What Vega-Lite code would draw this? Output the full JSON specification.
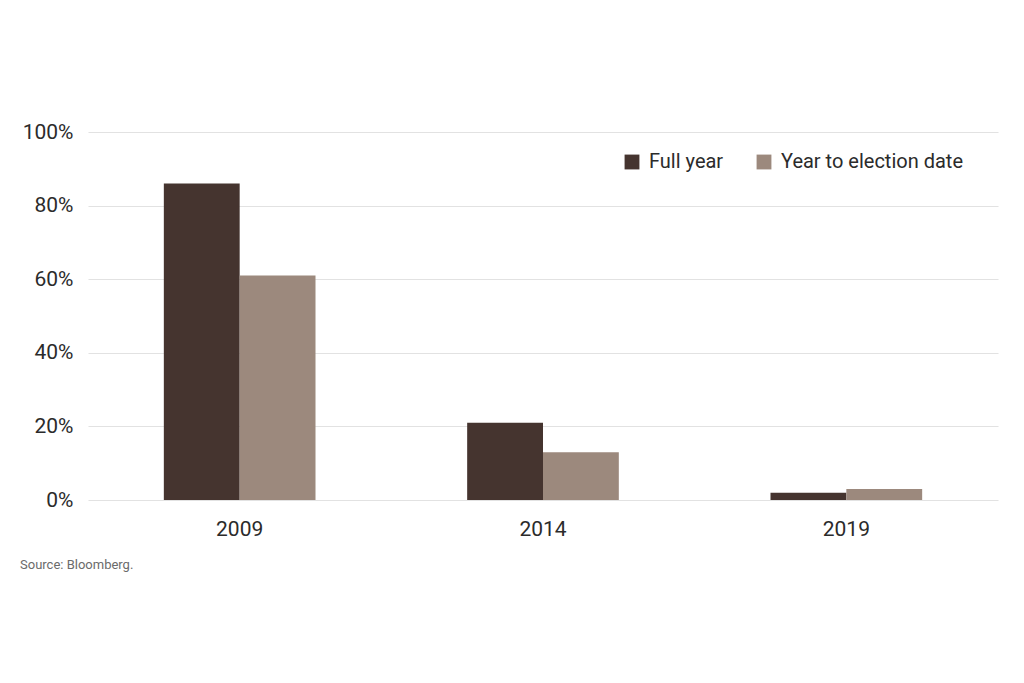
{
  "$schema": "https://vega.github.io/schema/vega-lite/v6.json",
  "width": 910,
  "height": 368,
  "autosize": "none",
  "padding": {"left": 88, "top": 132, "right": 26, "bottom": 183},
  "background": "white",
  "data": {
    "values": [
      {"year": "2009", "series": "Full year", "value": 0.86},
      {"year": "2009", "series": "Year to election date", "value": 0.61},
      {"year": "2014", "series": "Full year", "value": 0.21},
      {"year": "2014", "series": "Year to election date", "value": 0.13},
      {"year": "2019", "series": "Full year", "value": 0.02},
      {"year": "2019", "series": "Year to election date", "value": 0.03}
    ]
  },
  "config": {
    "font": "Roboto",
    "view": {"stroke": null}
  },
  "title": {
    "text": "Source: Bloomberg.",
    "orient": "bottom",
    "anchor": "start",
    "frame": "group",
    "dx": -68,
    "offset": 20,
    "font": "Roboto",
    "fontSize": 13,
    "fontWeight": "normal",
    "color": "#6b6b6b"
  },
  "mark": {"type": "bar"},
  "encoding": {
    "x": {
      "field": "year",
      "type": "nominal",
      "scale": {"paddingInner": 0.5, "paddingOuter": 0.25},
      "axis": {
        "title": null,
        "labelAngle": 0,
        "domain": false,
        "ticks": false,
        "labelPadding": 18,
        "labelFontSize": 21,
        "labelColor": "#2b2b2b",
        "labelFont": "Roboto"
      }
    },
    "xOffset": {"field": "series", "type": "nominal", "sort": ["Full year", "Year to election date"], "scale": {"paddingInner": 0}},
    "y": {
      "field": "value",
      "type": "quantitative",
      "scale": {"domain": [0, 1]},
      "axis": {
        "title": null,
        "format": ".0%",
        "values": [0, 0.2, 0.4, 0.6, 0.8, 1],
        "domain": false,
        "ticks": false,
        "labelPadding": 15,
        "labelFontSize": 21,
        "labelColor": "#2b2b2b",
        "labelFont": "Roboto",
        "gridColor": "#e2e2e2",
        "gridWidth": 1.2
      }
    },
    "color": {
      "field": "series",
      "type": "nominal",
      "sort": ["Full year", "Year to election date"],
      "scale": {"domain": ["Full year", "Year to election date"], "range": ["#45342f", "#9c897d"]},
      "legend": {
        "title": null,
        "orient": "none",
        "legendX": 534,
        "legendY": 20,
        "direction": "horizontal",
        "symbolType": "square",
        "symbolSize": 220,
        "symbolStrokeWidth": 0,
        "labelFontSize": 20,
        "labelColor": "#2b2b2b",
        "labelFont": "Roboto",
        "labelLimit": 400,
        "columnPadding": 30,
        "labelOffset": 7
      }
    }
  }
}
